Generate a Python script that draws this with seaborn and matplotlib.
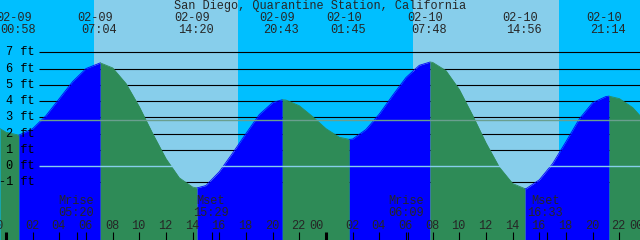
import numpy as np
import pandas as pd
import matplotlib
matplotlib.use("Agg")
import matplotlib.pyplot as plt
import seaborn as sns

# ---------------- data ----------------
title = "San Diego, Quarantine Station, California"

event_hours = [0.97, 7.07, 14.33, 20.72, 25.75, 31.80, 38.93, 45.23]
event_ft = [1.9, 6.35, -1.35, 4.08, 1.64, 6.40, -1.40, 4.30]
event_dates = ["02-09", "02-09", "02-09", "02-09", "02-10", "02-10", "02-10", "02-10"]
event_times = ["00:58", "07:04", "14:20", "20:43", "01:45", "07:48", "14:56", "21:14"]

sample_hours = [-0.45, 0, 2, 3, 4, 5, 6, 8, 9, 10, 11, 12, 13, 14, 15, 16, 17, 18, 19, 20,
                21, 22, 23, 24, 25, 26, 27, 28, 29, 30, 31, 32, 33, 34, 35, 36, 37, 38, 39,
                40, 41, 42, 43, 44, 45, 46, 47, 47.55]
sample_ft = [2.3, 2.08, 2.3, 3.1, 4.15, 5.2, 6.0, 6.04, 5.08, 3.65, 2.0, 0.45, -0.73, -1.3,
             -1.2, -0.35, 0.8, 2.0, 3.17, 3.91, 4.06, 3.71, 3.04, 2.30, 1.77, 1.66, 2.25,
             3.2, 4.35, 5.45, 6.2, 6.38, 5.87, 4.71, 3.12, 1.42, -0.07, -1.08, -1.4, -0.85,
             0.15, 1.5, 2.9, 3.9, 4.28, 4.15, 3.6, 3.1]

sun_hours = [6.60, 17.40, 30.53, 41.48]          # rise, set, rise, set
moon_hours = [5.33, 15.48, 30.15, 40.55]
moon_kinds = ["Mrise", "Mset", "Mrise", "Mset"]
moon_times = ["05:20", "15:29", "06:09", "16:33"]

hour_ticks = list(range(0, 49, 2))
hour_labels = [f"{h % 24:02d}" for h in hour_ticks]
ft_levels = [7, 6, 5, 4, 3, 2, 1, 0, -1]
ft_labels = [f"{v} ft" for v in ft_levels]
msl_ft = 2.81

# ---------------- style ----------------
NIGHT = "#00BFFF"
DAY = "#87CEEB"
RISE = "#0000FF"
FALL = "#2E8B57"
MSL_C = "#6A9F8F"
DATUM_C = "#87CEEB"

sns.set_style("white")
plt.rcParams["font.family"] = ["Liberation Mono", "DejaVu Sans Mono"]
FS = 8.6

W, H = 640, 240
PX_HR = 13.333
X0_PX = 6.0
Y0_PX = 166.0
PX_FT = 16.24

xmin = -X0_PX / PX_HR
xmax = (W - X0_PX) / PX_HR
ymax = Y0_PX / PX_FT
ymin = (Y0_PX - H) / PX_FT


def yft(px):
    return (Y0_PX - px) / PX_FT


def dx(px):
    return px / PX_HR


fig = plt.figure(figsize=(W / 100, H / 100), dpi=100)
ax = fig.add_axes([0, 0, 1, 1])

# day / night background
edges = [xmin] + sun_hours + [xmax]
for i in range(len(edges) - 1):
    ax.axvspan(edges[i], edges[i + 1], color=NIGHT if i % 2 == 0 else DAY, lw=0, zorder=0)

# grid lines (behind water)
line_start = dx(39 - X0_PX)
ax.hlines([v for v in ft_levels if v != 0], line_start, xmax, color="black", lw=0.8, zorder=1)

# tide curve
df = pd.DataFrame({"h": sample_hours + event_hours, "ft": sample_ft + event_ft})
df = df.sort_values("h").reset_index(drop=True)
bounds = [xmin] + event_hours + [xmax]
for a, b in zip(bounds[:-1], bounds[1:]):
    seg = df[(df["h"] >= a - 1e-9) & (df["h"] <= b + 1e-9)]
    rising = seg["ft"].iloc[-1] > seg["ft"].iloc[0]
    c = RISE if rising else FALL
    ax.fill_between(seg["h"], seg["ft"], ymin, color=c, lw=0, zorder=2)
    sns.lineplot(data=seg, x="h", y="ft", color=c, lw=0.6, ax=ax, zorder=2.1,
                 sort=True, estimator=None)
ax.set_xlim(xmin, xmax)
ax.set_ylim(ymin, ymax)
ax.axis("off")

# datum and mean sea level lines
ax.hlines([0], line_start, xmax, color=DATUM_C, lw=1.0, zorder=3)
ax.hlines([msl_ft], line_start, xmax, color=MSL_C, lw=1.0, zorder=3)

# left labels
for v, lab in zip(ft_levels, ft_labels):
    ax.text(dx(35 - X0_PX), v, lab, ha="right", va="center", fontsize=FS, color="black", zorder=5)

# title
ax.text(dx(320 - X0_PX), yft(5.5), title, ha="center", va="center", fontsize=FS, zorder=5)

# event labels
for h, d, t in zip(event_hours, event_dates, event_times):
    ax.text(h - dx(5.3), yft(17.5), d, ha="center", va="center", fontsize=FS, zorder=5)
    ax.text(h - dx(1.3), yft(29.5), t, ha="center", va="center", fontsize=FS, zorder=5)

# moon labels
for h, k, t in zip(moon_hours, moon_kinds, moon_times):
    xc = h - dx(1.5)
    ax.text(xc, yft(201.5), k, ha="center", va="center", fontsize=FS, zorder=5)
    ax.text(xc, yft(213.3), t, ha="center", va="center", fontsize=FS, zorder=5)

# hour ticks and labels
for h, lab in zip(hour_ticks, hour_labels):
    midnight = (h % 24 == 0)
    xc = h - dx(9.5) if midnight else h - dx(0.7)
    ax.text(xc, yft(225.8), lab, ha="center", va="center", fontsize=FS, zorder=5)
    ax.vlines(h, ymin, yft(231.5), color="black", lw=2.2 if midnight else 0.8, zorder=5)
ax.vlines(moon_hours, ymin, yft(231.5), color="black", lw=0.8, zorder=5)

fig.savefig("out.png", dpi=100)
